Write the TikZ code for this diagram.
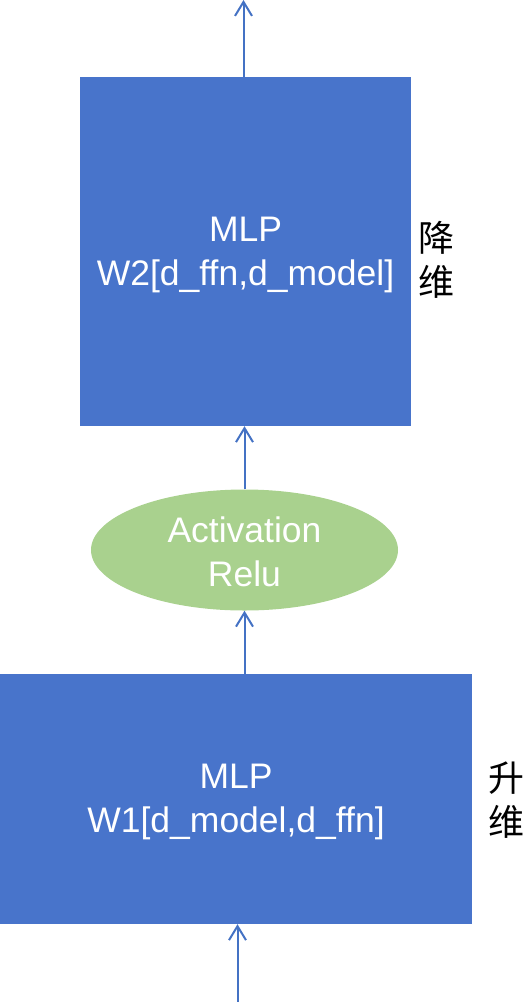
\documentclass[tikz,border=0pt]{standalone}
\usepackage{fontspec}
\setmainfont{Liberation Sans}
\newfontfamily\cjk{Noto Sans CJK SC}
\usetikzlibrary{arrows.meta,shapes.geometric}
\definecolor{boxblue}{HTML}{4874CB}
\definecolor{arrblue}{HTML}{4472C4}
\definecolor{ellgreen}{HTML}{A9D18E}
\tikzset{
  mlpbox/.style={rectangle, fill=boxblue, draw=none, inner sep=0pt, text=white, align=center,
    font=\fontsize{35.5}{44}\selectfont},
  actell/.style={ellipse, fill=ellgreen, draw=none, inner sep=0pt, text=white, align=center,
    font=\fontsize{35.5}{44}\selectfont},
  sidelabel/.style={inner sep=0pt, align=center, font=\cjk\fontsize{36}{44}\selectfont},
  arr/.style={draw=arrblue, line width=2pt, -{Straight Barb[length=14pt,width=17pt,line width=2pt]}}
}
\begin{document}
\begin{tikzpicture}[x=1pt,y=-1pt]
\useasboundingbox (0,0) rectangle (531,1002);
\node[mlpbox, minimum width=331pt, minimum height=349pt] (w2) at (245.5,251.5) {};
\node[mlpbox] (w2t) at (245.5,255) {MLP\\W2[d\_ffn,d\_model]};
\node[actell, minimum width=307pt, minimum height=121pt] (act) at (244.5,550) {};
\node[actell, fill=none] (actt) at (244.5,552) {Activation\\Relu};
\node[mlpbox, minimum width=472pt, minimum height=250pt] (w1) at (236,799) {};
\node[mlpbox] (w1t) at (236,802) {MLP\\W1[d\_model,d\_ffn]};
\node[sidelabel] (down) at (436,260) {降\\维};
\node[sidelabel] (up) at (506,800) {升\\维};
\coordinate (outtop) at (243.5,0);
\coordinate (inbot) at (237.5,1002);
\draw[arr] (w2.north -| outtop) -- (outtop);
\draw[arr] (act.north) -- (act.north |- w2.south);
\draw[arr] (w1.north -| act.south) -- (act.south);
\draw[arr] (inbot) -- (inbot |- w1.south);
\end{tikzpicture}
\end{document}
